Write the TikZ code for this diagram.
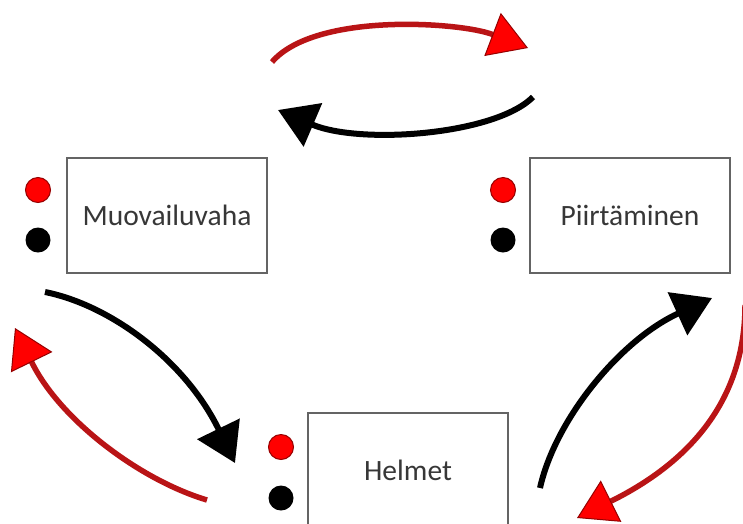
\documentclass[tikz,border=0pt]{standalone}
\usepackage{fontspec}
\setmainfont{Carlito}
\usetikzlibrary{arrows.meta}
\definecolor{redline}{RGB}{185,20,22}
\definecolor{redhead}{RGB}{255,0,0}
\definecolor{reddark}{RGB}{150,0,0}
\definecolor{boxline}{RGB}{100,100,100}
\definecolor{txt}{RGB}{55,55,55}
\tikzset{
 actbox/.style={draw=boxline, line width=1.6pt, fill=white, minimum width=200pt, minimum height=115pt, inner sep=0pt, font=\fontsize{29.5}{34}\selectfont, text=txt},
 reddot/.style={circle, fill=redhead, draw=reddark, line width=1pt, minimum size=25pt, inner sep=0pt},
 blackdot/.style={circle, fill=black, minimum size=25pt, inner sep=0pt},
 blackarrow/.style={draw=black, line width=6pt, -{Triangle[length=38pt,width=46pt]}},
 redarrow/.style={draw=redline, line width=5.5pt, -{Triangle[length=38pt,width=46pt,color=reddark,fill=redhead,line width=1pt]}},
}
\begin{document}
\begin{tikzpicture}[x=1pt,y=-1pt]
\clip (0,0) rectangle (743,523);
\fill[white] (0,0) rectangle (743,523);
% boxes
\node[actbox] (muo) at (167,215.5) {Muovailuvaha};
\node[actbox] (pii) at (630,215.5) {Piirtäminen};
\node[actbox] (hel) at (408,470.5) {Helmet};
% dots
\node[reddot] (muor) at (38,190) {};
\node[blackdot] (muob) at (38,240) {};
\node[reddot] (piir) at (503,190) {};
\node[blackdot] (piib) at (503,240) {};
\node[reddot] (helr) at (281,447) {};
\node[blackdot] (helb) at (281,498) {};
% arrows
\coordinate (tr1) at (272,62);  \coordinate (tr2) at (528,48);
\coordinate (tb1) at (533,97);  \coordinate (tb2) at (278,110);
\coordinate (lb1) at (45,292);  \coordinate (lb2) at (235,463);
\coordinate (lr1) at (207,500); \coordinate (lr2) at (15,328);
\coordinate (rb1) at (540,488); \coordinate (rb2) at (712,298);
\coordinate (rr1) at (745,305); \coordinate (rr2) at (577,518);
\draw[redarrow] (tr1) .. controls (315,12) and (460,22) .. (tr2);
\draw[blackarrow] (tb1) .. controls (495,135) and (360,145) .. (tb2);
\draw[blackarrow] (lb1) .. controls (110,305) and (185,360) .. (lb2);
\draw[redarrow] (lr1) .. controls (140,480) and (60,420) .. (lr2);
\draw[blackarrow] (rb1) .. controls (555,420) and (620,340) .. (rb2);
\draw[redarrow] (rr1) .. controls (745,400) and (690,462) .. (rr2);
\end{tikzpicture}
\end{document}
